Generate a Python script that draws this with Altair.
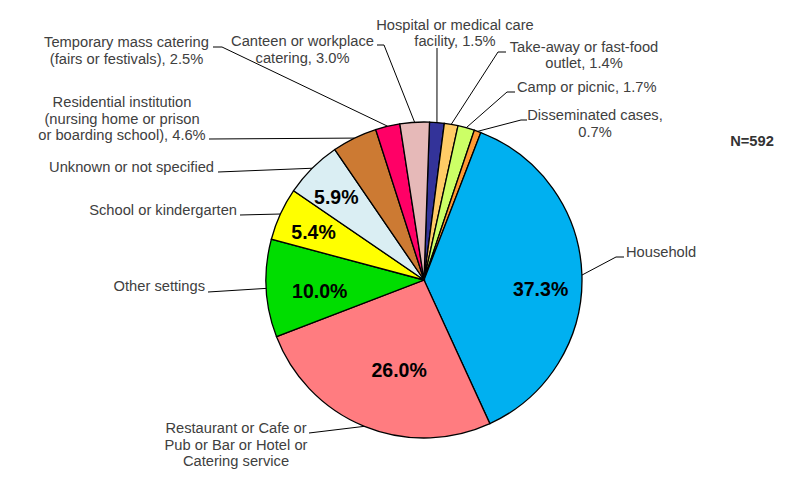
import math
import altair as alt
import pandas as pd

# ---- data (clockwise from 12 o'clock) ----
categories = [
    "Hospital or medical care facility", "Take-away or fast-food outlet",
    "Camp or picnic", "Disseminated cases", "Household",
    "Restaurant or Cafe or Pub or Bar or Hotel or Catering service",
    "Other settings", "School or kindergarten", "Unknown or not specified",
    "Residential institution", "Temporary mass catering",
    "Canteen or workplace catering",
]
values = [1.5, 1.4, 1.7, 0.7, 37.3, 26.0, 10.0, 5.4, 5.9, 4.6, 2.5, 3.0]
colors = ["#333399", "#FFCC66", "#CCFF66", "#FF9933", "#00B0F0", "#FF7C80",
          "#00DD00", "#FFFF00", "#DAEEF3", "#CC7A33", "#FF0066", "#E6B9B8"]
outside_labels = [
    "Hospital or medical care\nfacility, 1.5%",
    "Take-away or fast-food\noutlet, 1.4%",
    "Camp or picnic, 1.7%",
    "Disseminated cases,\n0.7%",
    "Household",
    "Restaurant or Cafe or\nPub or Bar or Hotel or\nCatering service",
    "Other settings",
    "School or kindergarten",
    "Unknown or not specified",
    "Residential institution\n(nursing home or prison\nor boarding school), 4.6%",
    "Temporary mass catering\n(fairs or festivals), 2.5%",
    "Canteen or workplace\ncatering, 3.0%",
]
inside_labels = ["", "", "", "", "37.3%", "26.0%", "10.0%", "5.4%", "5.9%", "", "", ""]
note = "N=592"

# ---- layout (page pixels) ----
OFF = 8
CX, CY, R = 424 - OFF, 280 - OFF, 158
ROT = math.radians(2)
# y of the first text line's middle
label_x = [455, 584, 517, 595, 626, 236, 205, 237, 214, 122, 126.5, 302.5]
label_y = [25.5, 47.5, 87.5, 116, 253, 429, 287, 210.5, 168, 103, 43, 42]
label_align = ["center", "center", "left", "center", "left", "center",
               "right", "right", "right", "center", "center", "center"]
lead_ax = [437, 506, 515, 527, 624, 309, 208, 240, 218, 209, 213, 377]
lead_ay = [48, 52, 92, 120, 257, 433, 292, 215, 172, 139, 47, 45]
lead_bx = [437, 498, 507, 521, 616, 309, 208, 240, 218, 209, 222, 384]
lead_by = [48, 52, 92, 120, 257, 433, 292, 215, 172, 139, 47, 45]
# in-slice label placement: radius (px) and angular nudge (deg) from the slice middle
inside_r = [110, 110, 110, 110, 117, 94, 105, 120, 120, 110, 110, 110]
inside_dang = [0, 0, 0, 0, 6.7, -6.8, -3.6, -1.7, -2.0, 0, 0, 0]

df = pd.DataFrame({
    "idx": list(range(len(categories))),
    "category": categories,
    "value": values,
    "outside": outside_labels,
    "inside": inside_labels,
    "tx": [v - OFF for v in label_x],
    "ty": [v - OFF for v in label_y],
    "align": label_align,
    "ax": [v - OFF for v in lead_ax],
    "ay": [v - OFF for v in lead_ay],
    "bx": [v - OFF for v in lead_bx],
    "by": [v - OFF for v in lead_by],
    "ri": inside_r,
    "dang": inside_dang,
})

FONT = "Liberation Sans"
base = alt.Chart(df)
theta = alt.Theta("value:Q", stack=True,
                  scale=alt.Scale(range=[ROT, ROT + 2 * math.pi]))

pie = base.mark_arc(outerRadius=R, stroke="black", strokeWidth=1.3).encode(
    theta=theta,
    color=alt.Color("category:N", scale=alt.Scale(domain=categories, range=colors), legend=None),
    order=alt.Order("idx:Q"),
    x=alt.value(CX), y=alt.value(CY),
)

geo = base.transform_joinaggregate(total="sum(value)").transform_window(
    cum="sum(value)", sort=[alt.SortField("idx")], frame=[None, 0]
).transform_calculate(
    ang=f"{ROT} + 2*PI*(datum.cum - datum.value/2)/datum.total"
).transform_calculate(
    cx=f"{CX} + {R}*sin(datum.ang)", cy=f"{CY} - {R}*cos(datum.ang)",
    ix=f"{CX} + datum.ri*sin(datum.ang + datum.dang*PI/180)",
    iy=f"{CY} - datum.ri*cos(datum.ang + datum.dang*PI/180)",
)

inside = geo.transform_filter("datum.inside != ''").mark_text(
    font=FONT, fontSize=19.5, fontWeight="bold", color="black",
    align="center", baseline="middle",
).encode(
    x=alt.X("ix:Q", scale=None), y=alt.Y("iy:Q", scale=None), text="inside:N",
)

seg1 = geo.mark_rule(color="black", strokeWidth=1).encode(
    x=alt.X("ax:Q", scale=None), y=alt.Y("ay:Q", scale=None),
    x2="bx:Q", y2="by:Q",
)
seg2 = geo.mark_rule(color="black", strokeWidth=1).encode(
    x=alt.X("bx:Q", scale=None), y=alt.Y("by:Q", scale=None),
    x2="cx:Q", y2="cy:Q",
)

def label_layer(al):
    return base.transform_filter(f"datum.align == '{al}'").mark_text(
        align=al, baseline="middle", font=FONT, fontSize=14.7, color="#404040",
        lineBreak="\n", lineHeight=16.5,
    ).encode(
        x=alt.X("tx:Q", scale=None), y=alt.Y("ty:Q", scale=None), text="outside:N",
    )

nlabel = alt.Chart(pd.DataFrame({"t": [note]})).mark_text(
    font=FONT, fontSize=14.7, fontWeight="bold", color="#333333", align="center", baseline="middle"
).encode(text="t:N", x=alt.value(752 - OFF), y=alt.value(142 - OFF))

chart = alt.layer(
    seg1, seg2, pie, inside,
    label_layer("left"), label_layer("center"), label_layer("right"), nlabel,
).properties(width=776, height=480, padding=0, background="white").configure_view(strokeWidth=0)

chart.save("out.html", embed_options={"renderer": "svg", "actions": False})
